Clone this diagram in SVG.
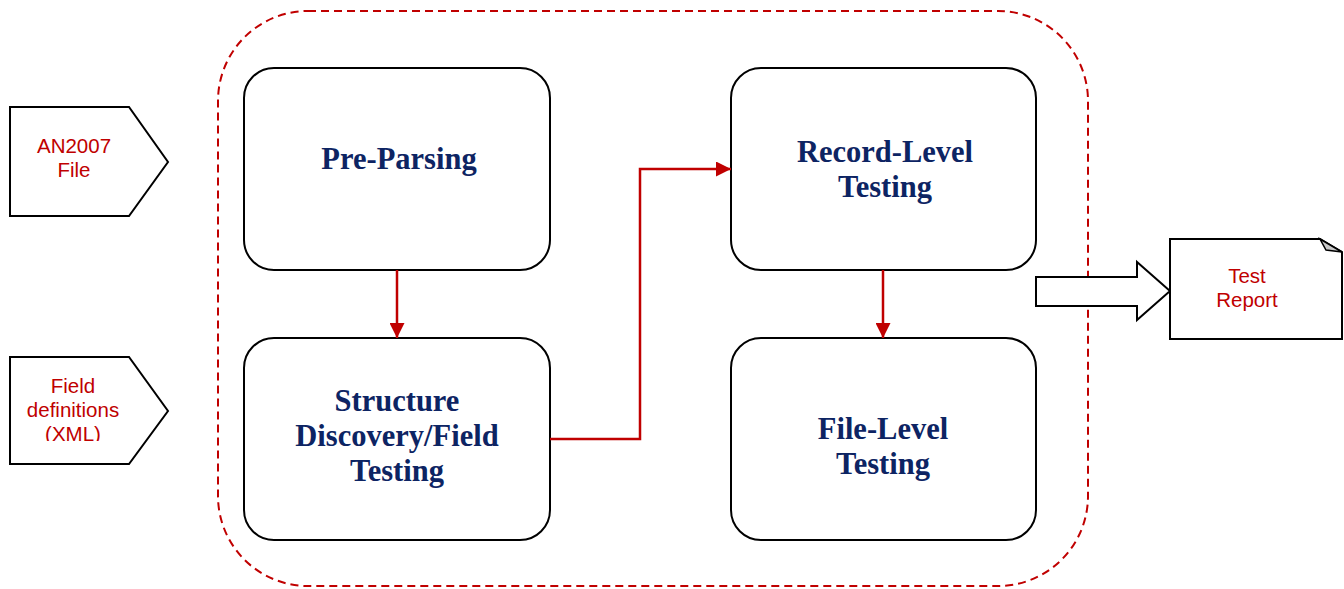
<svg xmlns="http://www.w3.org/2000/svg" width="1344" height="589" viewBox="0 0 1344 589">
<style>
.box{fill:#fff;stroke:#000;stroke-width:2}
.t{font-family:"Liberation Serif","Times New Roman",serif;font-weight:bold;font-size:30.5px;fill:#0d2463;text-anchor:middle}
.s{font-family:"Liberation Sans",Arial,sans-serif;font-size:20.5px;fill:#c00000;text-anchor:middle}
.shape{fill:#fff;stroke:#000;stroke-width:2}
.conn{fill:none;stroke:#c00000;stroke-width:2.5}
</style>
<defs>
<marker id="ah" markerWidth="15" markerHeight="15" refX="15" refY="7.5" orient="auto" markerUnits="userSpaceOnUse">
<path d="M0,0 L15,7.5 L0,15 Z" fill="#c00000"/>
</marker>
<clipPath id="clipxml"><rect x="0" y="350" width="180" height="91"/></clipPath>
</defs>
<g id="container">
<rect x="218" y="11" width="870" height="575" rx="90" ry="90" fill="none" stroke="#c00000" stroke-width="2" stroke-dasharray="8,5"/>
</g>
<g id="input-an2007">
<path class="shape" d="M10,107 H129 L168,162 L129,216 H10 Z"/>
<text class="s" x="74" y="153">AN2007</text>
<text class="s" x="74" y="177">File</text>
</g>
<g id="input-field-defs">
<path class="shape" d="M10,357 H129 L168,411 L129,464 H10 Z"/>
<g clip-path="url(#clipxml)">
<text class="s" x="73" y="393">Field</text>
<text class="s" x="73" y="417">definitions</text>
<text class="s" x="73" y="441">(XML)</text>
</g>
</g>
<g id="pre-parsing">
<rect class="box" x="244" y="68" width="306" height="202" rx="30" ry="30"/>
<text class="t" x="399" y="169">Pre-Parsing</text>
</g>
<g id="structure">
<rect class="box" x="244" y="338" width="306" height="202" rx="30" ry="30"/>
<text class="t" x="397" y="411">Structure</text>
<text class="t" x="397" y="446">Discovery/Field</text>
<text class="t" x="397" y="481">Testing</text>
</g>
<g id="record-level">
<rect class="box" x="731" y="68" width="305" height="202" rx="30" ry="30"/>
<text class="t" x="885" y="162">Record-Level</text>
<text class="t" x="885" y="197">Testing</text>
</g>
<g id="file-level">
<rect class="box" x="731" y="338" width="305" height="202" rx="30" ry="30"/>
<text class="t" x="883" y="439">File-Level</text>
<text class="t" x="883" y="474">Testing</text>
</g>
<g id="output-arrow">
<path class="shape" d="M1036,277 H1137 V262 L1170,291 L1137,320 V306 H1036 Z"/>
</g>
<g id="test-report">
<path class="shape" d="M1170,239 H1320 L1342,252 V339 H1170 Z"/>
<path d="M1320,239 L1342,252 L1326,250 Z" fill="#c8c8c8" stroke="#000" stroke-width="1.5"/>
<text class="s" x="1247" y="283">Test</text>
<text class="s" x="1247" y="307">Report</text>
</g>
<g id="connectors">
<path class="conn" d="M397,270 V338" marker-end="url(#ah)"/>
<path class="conn" d="M550,439 H640 V169 H731" marker-end="url(#ah)"/>
<path class="conn" d="M883,270 V338" marker-end="url(#ah)"/>
</g>
</svg>
